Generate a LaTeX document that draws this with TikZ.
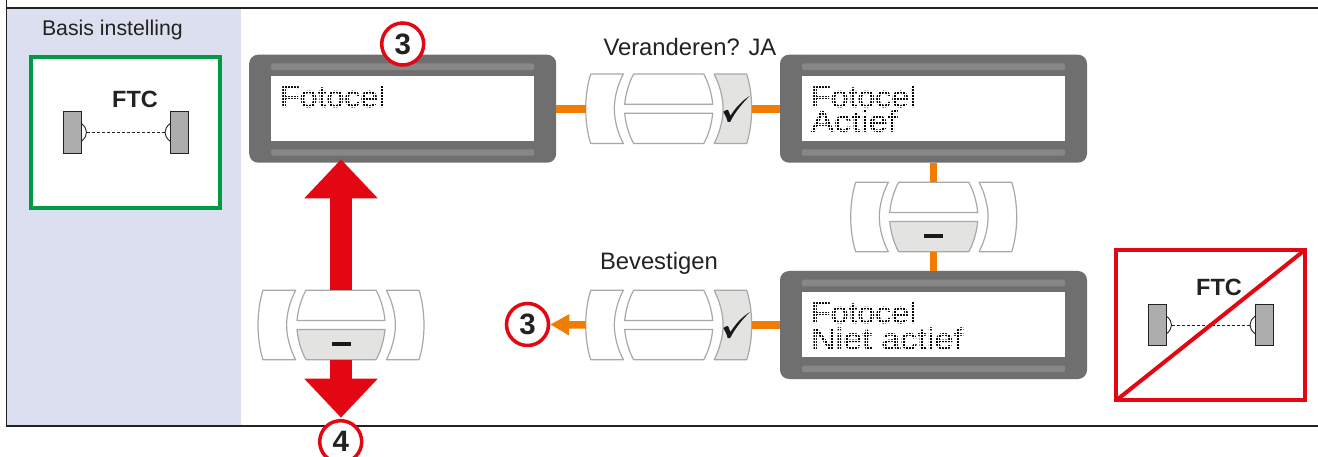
\documentclass[tikz,border=0pt]{standalone}
\usepackage{fontspec}
\setmainfont{Liberation Sans}
\newfontfamily\lcdfont[FakeBold=1.5]{Liberation Sans}
\usetikzlibrary{arrows.meta,backgrounds}
\definecolor{panel}{HTML}{DCDFEF}
\definecolor{okgreen}{HTML}{009A44}
\definecolor{alarm}{HTML}{E30613}
\definecolor{link}{HTML}{F07D00}
\definecolor{bezel}{HTML}{706F6F}
\definecolor{strip}{HTML}{878787}
\definecolor{keyedge}{HTML}{A8A8A8}
\definecolor{keyfill}{HTML}{E3E3E1}
\definecolor{ink}{HTML}{222222}
\definecolor{sensor}{HTML}{ADADAD}
\newcommand{\sidebtn}{(-78,-34.7) .. controls (-81.5,-24) and (-83,-11) .. (-83,0) .. controls (-83,11) and (-81.5,24) .. (-78,34.7) -- (-45.4,34.7) .. controls (-51,24) and (-54.4,11) .. (-54.4,0) .. controls (-54.4,-11) and (-51,-24) .. (-45.4,-34.7) -- cycle}
\newcommand{\topbtn}{(-35,-34.7) -- (35,-34.7) .. controls (39,-28) and (43,-16) .. (44,-4.5) -- (-44,-4.5) .. controls (-43,-16) and (-39,-28) .. (-35,-34.7) -- cycle}
\tikzset{
  x=1pt,y=-1pt,
  keybtn/.style={draw=keyedge,line width=1.2pt,fill=white,line join=round},
  keyon/.style={keybtn,fill=keyfill},
  keybase/.style={inner sep=0,outer sep=0,minimum width=166pt,minimum height=69.4pt},
  display/.style={fill=bezel,rounded corners=9pt,inner sep=0,outer sep=0,minimum width=307pt,minimum height=108pt},
  label/.style={inner sep=0,outer sep=0,anchor=base west,text=ink,font=\fontsize{21.3}{24}\selectfont},
  biglabel/.style={label,font=\fontsize{23.8}{26}\selectfont},
  ftclabel/.style={inner sep=0,outer sep=0,anchor=base,text=ink,font=\fontsize{23.5}{25}\selectfont\bfseries},
  lcdtext/.style={inner sep=0,outer sep=0,anchor=base west,text=black,font=\fontsize{30}{30}\lcdfont,transform shape},
  stepmark/.style={circle,draw=alarm,fill=white,line width=3.5pt,minimum size=42pt,inner sep=0,text=ink,font=\fontsize{29.5}{30}\selectfont\bfseries},
  orangelink/.style={draw=link,line width=7.5pt},
  redarrow/.style={draw=alarm,line width=21.7pt,-{Triangle[length=39pt,width=71pt,fill=alarm]}},
  framebox/.style={line width=4pt,fill=white},
  sensorbox/.style={draw=ink,fill=sensor,line width=0.9pt},
  pics/keycheck/.style={code={
    \draw[keybtn] \sidebtn;
    \draw[keybtn] \topbtn;
    \begin{scope}[yscale=-1]\draw[keybtn] \topbtn;\end{scope}
    \begin{scope}[xscale=-1]\draw[keyon] \sidebtn;\end{scope}
    \fill[black!90] (54.6,3) .. controls (56.5,1.6) and (58,1) .. (59.3,1) .. controls (60.2,3) and (61,5) .. (61.8,7) .. controls (66,0) and (73,-8) .. (81.3,-13.1) .. controls (73,-5) and (66,4) .. (61.5,13) -- (59,13.2) .. controls (58,9) and (56.5,6) .. (54.6,3) -- cycle;
  }},
  pics/keyminus/.style={code={
    \draw[keybtn] \sidebtn;
    \begin{scope}[xscale=-1]\draw[keybtn] \sidebtn;\end{scope}
    \draw[keybtn] \topbtn;
    \begin{scope}[yscale=-1]\draw[keyon] \topbtn;\end{scope}
    \fill[black!90] (-9.5,17) rectangle (9.5,21);
  }},
  pics/lcd/.style={code={
    \fill[white] (-131.5,-32.7) rectangle (131.5,32);
    \fill[strip,rounded corners=2pt] (-131.5,-45.3) rectangle (131.5,-38.6);
    \fill[strip,rounded corners=2pt] (-131.5,40.6) rectangle (131.5,47);
  }},
  pics/ftc/.style={code={
    \draw[sensorbox] (-71.7,-20.8) rectangle (-53.7,20.8);
    \draw[sensorbox] (35.3,-20.8) rectangle (53,20.8);
    \draw[ink,line width=0.9pt] (-53.7,-9) .. controls (-50,-6) and (-48.5,-3) .. (-48.5,0) .. controls (-48.5,3) and (-50,6) .. (-53.7,9);
    \draw[ink,line width=0.9pt] (35.3,-9) .. controls (31.5,-6) and (30,-3) .. (30,0) .. controls (30,3) and (31.5,6) .. (35.3,9);
    \draw[ink,line width=0.9pt,dash pattern=on 3pt off 2pt] (-48.5,0) -- (30,0);
  }},
}
\newcommand{\dotmask}[4]{%
  \edef\gxb{\the\numexpr#1+3\relax}%
  \edef\gyb{\the\numexpr#2+3\relax}%
  \foreach \gx in {#1,\gxb,...,#3}{\draw[white,line width=0.9pt] (\gx,#2) -- (\gx,#4);}
  \foreach \gy in {#2,\gyb,...,#4}{\draw[white,line width=0.9pt] (#1,\gy) -- (#3,\gy);}
}
\begin{document}
\begin{tikzpicture}
\path[use as bounding box] (0,0) rectangle (1318,457);
\clip (0,0) rectangle (1318,457);
\fill[white] (0,0) rectangle (1318,457);
\fill[panel] (7,8) rectangle (241,426);
\draw[ink,line width=1.7pt] (6.6,0) -- (6.6,426) -- (1318,426);
\draw[ink,line width=1.7pt] (6.6,7.8) -- (1318,7.8);

\node[label] (basis) at (42,35.7) {Basis instelling};
\draw[framebox,draw=okgreen] (31.3,57) rectangle (220.3,208);
\pic at (135,132.4) {ftc};
\node[ftclabel] (ftcgood) at (135,108) {FTC};

\node[display] (d1) at (402.7,108.7) {};
\node[display] (d2) at (933.5,108.7) {};
\node[display] (d3) at (933.5,325) {};
\pic at (d1) {lcd};
\pic at (d2) {lcd};
\pic at (d3) {lcd};

\node[keybase] (k1) at (668.7,108.8) {};
\node[keybase] (k2) at (933.7,217) {};
\node[keybase] (k3) at (341,325) {};
\node[keybase] (k4) at (668.7,325) {};
\pic at (k1) {keycheck};
\pic at (k2) {keyminus};
\pic at (k3) {keyminus};
\pic at (k4) {keycheck};

\node[lcdtext,xscale=1.07] (t1) at (280,107) {Fotocel};
\node[lcdtext,xscale=1.07] (t2) at (811,107) {Fotocel};
\node[lcdtext,xscale=1.15] (t3) at (811,131.7) {Actief};
\node[lcdtext,xscale=1.07] (t4) at (811,323) {Fotocel};
\node[lcdtext,xscale=1.14] (t5) at (811,349.3) {Niet actief};
\dotmask{278}{82}{392}{110}
\dotmask{809}{82}{923}{134}
\dotmask{809}{298}{966}{352}

\node[biglabel] (veranderen) at (603.5,56) {Veranderen? JA};
\node[biglabel] (bevestigen) at (600,270) {Bevestigen};

\node[stepmark] (s3a) at (402.7,44) {3};
\node[stepmark] (s3b) at (527.5,324.5) {3};
\node[stepmark] (s4) at (340.7,441.7) {4};

\coordinate (uptip) at (341,159.3);
\coordinate (downtip) at (341,417.7);
\draw[redarrow] (k3.north) -- (uptip);
\draw[redarrow] (k3.south) -- (downtip);

\draw[orangelink] (d1.east |- k1) -- (k1.west);
\draw[orangelink] (k1.east) -- (d2.west |- k1);
\draw[orangelink] (k2.north) -- (d2.south -| k2);
\draw[orangelink] (k2.south) -- (d3.north -| k2);
\draw[orangelink] (k4.east) -- (d3.west);
\draw[draw=link,line width=7.5pt,-{Triangle[length=19pt,width=20pt,fill=link]}] (k4.west) -- (s3b.east);

\draw[framebox,draw=alarm] (1116.3,249.7) rectangle (1305.3,400.3);
\pic at (1220,325) {ftc};
\node[ftclabel] (ftcbad) at (1219,295) {FTC};
\draw[alarm,line width=4pt] (1116.3,400.3) -- (1305.3,249.7);
\end{tikzpicture}
\end{document}
